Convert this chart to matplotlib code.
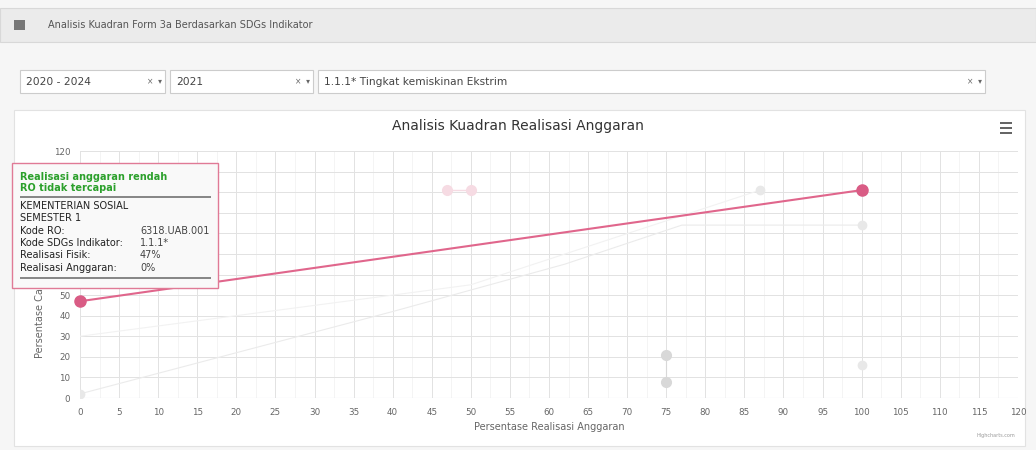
import matplotlib.pyplot as plt
from matplotlib.patches import Rectangle

# data
x_ticks = list(range(0, 125, 5))
y_ticks = list(range(0, 130, 10))

main_x = [0, 100]
main_y = [47, 101]

faded_pink_x = [47, 50]
faded_pink_y = [101, 101]

faded_line1_x = [0, 40, 62, 77, 100]
faded_line1_y = [2, 42, 65, 84, 84]
faded_line2_x = [0, 50, 87]
faded_line2_y = [30, 55, 101]
faded_pair_x = [75, 75]
faded_pair_y = [21, 8]
faded_pts_x = [100, 0, 87, 100]
faded_pts_y = [16, 2, 101, 84]

tooltip_head = ["Realisasi anggaran rendah", "RO tidak tercapai"]
tooltip_rows = [("KEMENTERIAN SOSIAL", ""), ("SEMESTER 1", ""),
                ("Kode RO:", "6318.UAB.001"),
                ("Kode SDGs Indikator:", "1.1.1*"),
                ("Realisasi Fisik:", "47%"),
                ("Realisasi Anggaran:", "0%")]

W, H = 1036, 450
fig = plt.figure(figsize=(W / 100, H / 100), dpi=100)
fig.patch.set_facecolor('#f6f6f6')


def fx(x):
    return x / W


def fy(y):
    return 1 - y / H


def box(x0, y0, x1, y1, fc, ec, lw=0.8, z=0):
    fig.patches.append(Rectangle((fx(x0), fy(y1)), fx(x1 - x0), (y1 - y0) / H,
                                 transform=fig.transFigure, fc=fc, ec=ec, lw=lw, zorder=z))


# header bar
box(0, 8, W, 42, '#ebebeb', '#d8d8d8')
box(14, 20, 25, 30, '#777777', 'none')
fig.text(fx(48), fy(25), "Analisis Kuadran Form 3a Berdasarkan SDGs Indikator",
         fontsize=7, color='#555555', va='center')

# dropdowns
for x0, x1, label in [(20, 165, "2020 - 2024"), (170, 313, "2021"),
                      (318, 985, "1.1.1* Tingkat kemiskinan Ekstrim")]:
    box(x0, 70, x1, 93, 'white', '#cccccc')
    fig.text(fx(x0 + 6), fy(82), label, fontsize=7.7, color='#444444', va='center')
    fig.text(fx(x1 - 18), fy(82), "×  ▾", fontsize=5.5, color='#666666', va='center')

# chart container
box(14, 110, 1025, 446, 'white', '#e2e2e2')
fig.text(fx(518), fy(126), "Analisis Kuadran Realisasi Anggaran",
         fontsize=10, color='#333333', ha='center', va='center')
for yy in (124, 129, 134):
    box(1000, yy - 2, 1012, yy, '#666666', 'none', lw=0)
fig.text(fx(1015), fy(437), "Highcharts.com", fontsize=3.5, color='#999999', ha='right')

ax = fig.add_axes([fx(80), fy(398), fx(1018 - 80), (398 - 151) / H])
ax.set_zorder(1)
ax.set_facecolor('none')
ax.set_xlim(0, 120)
ax.set_ylim(0, 120)
ax.set_xticks(x_ticks)
ax.set_yticks(y_ticks)
ax.set_xticks([v + 2.5 for v in x_ticks[:-1]], minor=True)
ax.tick_params(which='both', labelsize=6.3, colors='#666666', length=0, pad=7)
ax.grid(True, which='major', color='#e2e2e2', lw=0.7)
ax.grid(True, which='minor', axis='x', color='#f3f3f3', lw=0.6)
for s in ax.spines.values():
    s.set_visible(False)
ax.axhline(0, color='#ccd6eb', lw=0.8)
ax.set_xlabel("Persentase Realisasi Anggaran", fontsize=7, color='#666666', labelpad=4)
ax.set_ylabel("Persentase Capaian Realisasi Fisik", fontsize=7, color='#666666', labelpad=6)

# y labels 60..110 sit under the tooltip, as in the screenshot
fig.canvas.draw()
for val, lab in zip(y_ticks, ax.get_yticklabels()):
    if 60 <= val <= 110:
        lab.set_visible(False)

ax.plot(faded_line1_x, faded_line1_y, color='#ebebeb', lw=0.8)
ax.plot(faded_line2_x, faded_line2_y, color='#f2f2f2', lw=0.8)
ax.plot(faded_pair_x, faded_pair_y, color='#d8d8d8', lw=0.8, marker='o', ms=7)
ax.plot(faded_pts_x, faded_pts_y, ls='none', color='#e8e8e8', marker='o', ms=6)
ax.plot(faded_pink_x, faded_pink_y, color='#f6dbe3', lw=1, marker='o', ms=7)
ax.plot(main_x, main_y, color='#e0668c', lw=1.5, marker='o', ms=8,
        mfc='#d95c85', mec='#d95c85', clip_on=False, zorder=5)

# tooltip
box(12, 163, 218, 288, '#f9f9f9', '#e07a96', lw=1, z=10)
ty = 177
for line in tooltip_head:
    fig.text(fx(20), fy(ty), line, fontsize=7, color='#2ca02c', weight='bold',
             va='center', zorder=11)
    ty += 10.5
box(20, 196, 211, 198, '#888888', 'none', lw=0, z=11)
ty = 206
for left, right in tooltip_rows:
    fig.text(fx(20), fy(ty), left, fontsize=7, color='#222222', va='center', zorder=11)
    if right:
        fig.text(fx(140), fy(ty), right, fontsize=7, color='#444444', va='center', zorder=11)
    ty += 12.3
box(20, 277, 211, 279, '#888888', 'none', lw=0, z=11)

fig.savefig("out.png", dpi=100)
